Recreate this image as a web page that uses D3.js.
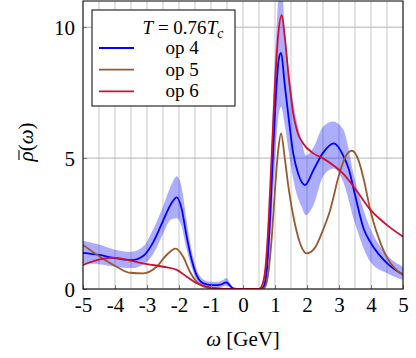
<!DOCTYPE html>
<html>
<head>
<meta charset="utf-8">
<script src="https://cdn.jsdelivr.net/npm/d3@7"></script>
<style>
    html, body { margin: 0; padding: 0; background: #fff; }
</style>
</head>
<body>
<svg id="chart" width="416" height="358"></svg>
<script>
// op 4 (central value) and its error band
const op4 = [
    [-5, 1.38], [-4.5, 1.3], [-4, 1.18], [-3.5, 1.1], [-3.1, 1.28], [-2.8, 1.8],
    [-2.5, 2.6], [-2.25, 3.25], [-2.07, 3.5], [-1.92, 3.08], [-1.76, 2.0], [-1.6, 1.1],
    [-1.45, 0.53], [-1.3, 0.26], [-1.1, 0.17], [-0.9, 0.15], [-0.7, 0.17], [-0.52, 0.25],
    [-0.4, 0.12], [-0.3, 0.02], [-0.2, 0], [0.55, 0], [0.65, 0.1], [0.75, 0.8],
    [0.85, 2.8], [0.95, 5.5], [1.05, 7.8], [1.12, 8.8], [1.19, 9.02], [1.3, 7.85],
    [1.42, 6.6], [1.57, 5.18], [1.72, 4.42], [1.94, 3.97], [2.2, 4.54], [2.5, 5.2],
    [2.84, 5.56], [3.13, 5.1], [3.3, 4.6], [3.5, 3.6], [3.77, 2.3], [4.0, 1.75],
    [4.49, 1.0], [5, 0.55]
];
const op4Band = [
    [-5, 0.98, 1.84], [-4.5, 0.95, 1.7], [-4, 0.85, 1.5], [-3.5, 0.8, 1.42], [-3.1, 0.95, 1.65],
    [-2.8, 1.35, 2.3], [-2.5, 2.1, 3.15], [-2.25, 2.65, 3.95], [-2.07, 2.7, 4.31],
    [-1.92, 2.4, 3.9], [-1.76, 1.5, 2.6], [-1.6, 0.8, 1.45], [-1.45, 0.35, 0.75],
    [-1.3, 0.12, 0.42], [-1.1, 0.06, 0.3], [-0.9, 0.05, 0.27], [-0.7, 0.07, 0.3],
    [-0.52, 0.12, 0.42], [-0.4, 0.04, 0.22], [-0.3, 0, 0.04], [-0.2, 0, 0], [0.55, 0, 0],
    [0.65, 0, 0.25], [0.75, 0.4, 1.4], [0.85, 1.8, 4.0], [0.95, 3.8, 7.5], [1.05, 5.9, 10],
    [1.12, 6.7, 11.5], [1.19, 6.96, 12], [1.3, 6.3, 10], [1.42, 5.3, 8.5], [1.62, 3.9, 6.8],
    [1.83, 3.14, 5.7], [1.96, 2.82, 5.1], [2.2, 3.2, 5.4], [2.5, 4.3, 6.2], [2.82, 4.6, 6.4],
    [3.13, 4.1, 6.1], [3.5, 2.5, 4.16], [4.0, 1.0, 2.25], [4.5, 0.6, 1.3], [5, 0.34, 0.85]
];
const op5 = [
    [-5, 1.68], [-4.47, 1.23], [-3.95, 0.85], [-3.53, 0.62], [-3.12, 0.6], [-2.7, 0.85],
    [-2.39, 1.3], [-2.1, 1.54], [-1.87, 1.23], [-1.66, 0.66], [-1.45, 0.28], [-1.24, 0.1],
    [-1.0, 0.03], [-0.5, 0], [0.6, 0], [0.7, 0.1], [0.8, 0.7], [0.9, 2.0], [1.0, 3.8],
    [1.1, 5.3], [1.19, 5.94], [1.3, 5.05], [1.42, 3.9], [1.62, 2.5], [1.83, 1.6], [1.99, 1.36],
    [2.24, 1.56], [2.5, 2.25], [2.72, 3.0], [3.0, 4.35], [3.2, 5.05], [3.4, 5.28], [3.6, 4.95],
    [3.77, 4.2], [4.0, 2.9], [4.3, 1.74], [4.49, 1.23], [5, 0.53]
];
const op6 = [
    [-5, 0.92], [-4.47, 1.13], [-4.05, 1.2], [-3.53, 1.08], [-3.0, 0.95], [-2.49, 0.85],
    [-2.07, 0.73], [-1.76, 0.47], [-1.45, 0.22], [-1.14, 0.09], [-0.8, 0.02], [-0.4, 0],
    [0.5, 0], [0.6, 0.15], [0.7, 0.8], [0.8, 2.6], [0.9, 5.2], [1.0, 7.8], [1.1, 9.7],
    [1.21, 10.46], [1.3, 9.7], [1.42, 8.2], [1.57, 6.7], [1.7, 6.0], [1.88, 5.56], [2.2, 5.18],
    [2.5, 4.99], [2.82, 4.73], [3.13, 4.41], [3.5, 3.84], [4.0, 3.0], [4.5, 2.44], [5, 2.0]
];

const xTicks = [-5, -4, -3, -2, -1, 0, 1, 2, 3, 4, 5];
const yTicks = [0, 5, 10];
const legendNames = ['op 4', 'op 5', 'op 6'];
const colors = ['#0000ff', '#99582e', '#d01030'];

const serif = "'Liberation Serif'";
const svg = d3.select('#chart');
const margin = {top: 1, right: 13, bottom: 69, left: 83};
const width = 416 - margin.left - margin.right;
const height = 358 - margin.top - margin.bottom;

const g = svg.append('g').attr('transform', `translate(${margin.left},${margin.top})`);

const x = d3.scaleLinear().domain([-5, 5]).range([0, width]);
const y = d3.scaleLinear().domain([0, 11]).range([height, 0]);

// clip
svg.append('defs').append('clipPath').attr('id', 'clip')
    .append('rect').attr('width', width).attr('height', height);

// grid
g.append('g').selectAll('line')
    .data(d3.range(-5, 5.01, 0.5))
    .enter().append('line')
    .attr('x1', d => x(d)).attr('x2', d => x(d))
    .attr('y1', 0).attr('y2', height)
    .attr('stroke', '#c8c8c8').attr('stroke-width', 1);
g.append('g').selectAll('line')
    .data(yTicks)
    .enter().append('line')
    .attr('x1', 0).attr('x2', width)
    .attr('y1', d => y(d)).attr('y2', d => y(d))
    .attr('stroke', '#b4b4b4').attr('stroke-width', 1);

const plot = g.append('g').attr('clip-path', 'url(#clip)');

// band
const area = d3.area()
    .x(d => x(d[0])).y0(d => y(d[1])).y1(d => y(d[2]))
    .curve(d3.curveMonotoneX);
plot.append('path').datum(op4Band)
    .attr('d', area)
    .attr('fill', '#0000ff').attr('fill-opacity', 0.32);

const line = d3.line().x(d => x(d[0])).y(d => y(d[1])).curve(d3.curveMonotoneX);
[op4, op5, op6].forEach((s, i) => {
    plot.append('path').datum(s)
        .attr('d', line)
        .attr('fill', 'none')
        .attr('stroke', colors[i])
        .attr('stroke-width', 1.8);
});

// axes
const xAxis = d3.axisBottom(x).tickValues(xTicks).tickSize(-4).tickPadding(8).tickFormat(d3.format('d'));
const yAxis = d3.axisLeft(y).tickValues(yTicks).tickSize(-4).tickPadding(8);
const gx = g.append('g').attr('transform', `translate(0,${height})`).call(xAxis);
const gy = g.append('g').call(yAxis);
[gx, gy].forEach(a => {
    a.attr('font-family', null).attr('font-size', null);
    a.select('.domain').remove();
    a.selectAll('line').attr('stroke', '#777');
    a.selectAll('text').attr('fill', '#000')
        .style('font-family', serif).style('font-size', '21px');
});
gx.selectAll('text').text(d => d < 0 ? '-' + Math.abs(d) : d);
gy.selectAll('text').attr('dy', '0.35em');

g.append('rect').attr('width', width).attr('height', height)
    .attr('fill', 'none').attr('stroke', '#000').attr('stroke-width', 1);

// axis labels
const xl = svg.append('text').attr('x', 243).attr('y', 346)
    .attr('text-anchor', 'middle')
    .style('font-family', serif).style('font-size', '21px');
xl.append('tspan').attr('font-style', 'italic').text('ω');
xl.append('tspan').text(' [GeV]');

const ylg = svg.append('g').attr('transform', 'translate(33,142) rotate(-90)');
const yl = ylg.append('text')
    .attr('text-anchor', 'middle')
    .style('font-family', serif).style('font-size', '21px');
yl.append('tspan').attr('font-style', 'italic').text('ρ');
yl.append('tspan').text('(');
yl.append('tspan').attr('font-style', 'italic').text('ω');
yl.append('tspan').text(')');
// bar over rho
const p0 = yl.node().getStartPositionOfChar(0);
const p1 = yl.node().getEndPositionOfChar(0);
ylg.append('line')
    .attr('x1', p0.x + 1.5).attr('x2', p1.x + 1)
    .attr('y1', -14).attr('y2', -14)
    .attr('stroke', '#000').attr('stroke-width', 1.1);

// legend
const lg = svg.append('g').attr('transform', 'translate(92,10)');
lg.append('rect').attr('width', 143).attr('height', 96)
    .attr('fill', '#fff').attr('stroke', '#000').attr('stroke-width', 1);
const title = lg.append('text').attr('x', 91).attr('y', 24)
    .attr('text-anchor', 'middle')
    .style('font-family', serif).style('font-size', '19px');
title.append('tspan').attr('font-style', 'italic').text('T');
title.append('tspan').text(' = 0.76');
title.append('tspan').attr('font-style', 'italic').text('T');
title.append('tspan').attr('font-style', 'italic').style('font-size', '14px').attr('dy', 4).text('c');
legendNames.forEach((name, i) => {
    const yy = 38 + i * 21.7;
    lg.append('line').attr('x1', 7).attr('x2', 42).attr('y1', yy).attr('y2', yy)
        .attr('stroke', colors[i]).attr('stroke-width', 1.8);
    lg.append('text').attr('x', 90).attr('y', yy + 6)
        .attr('text-anchor', 'middle')
        .style('font-family', serif).style('font-size', '19px').text(name);
});
</script>
</body>
</html>
